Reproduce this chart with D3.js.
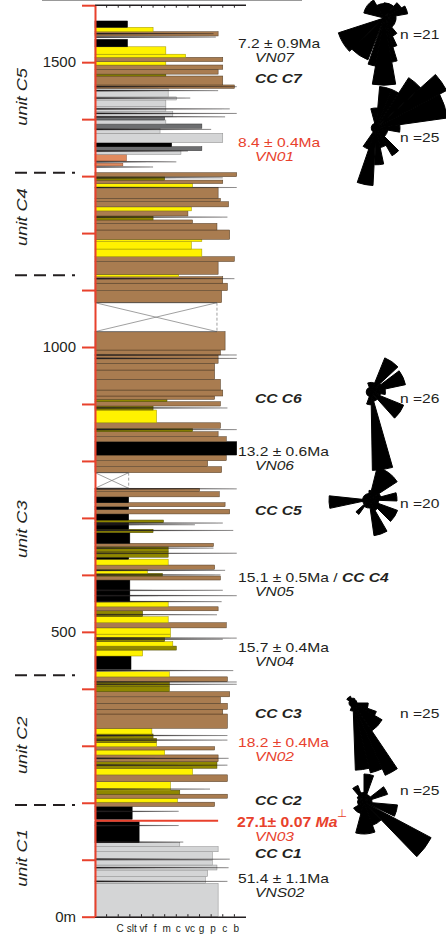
<!DOCTYPE html>
<html lang="en">
<head>
<meta charset="UTF-8">
<title>log</title>
<style>
  *{ margin:0; padding:0; box-sizing:border-box }
  html, body { width:446px; height:937px; background:#fff; overflow:hidden;
    font-family:"Liberation Sans", Arial, sans-serif; }
  svg { position:absolute; top:0; left:0 }
</style>
<script src="https://cdn.jsdelivr.net/npm/d3@7/dist/d3.min.js"></script>
</head>
<body>
<svg id="log" width="446" height="937"></svg>
<script>
// beds, bottom to top: top of bed (m), grain size index, lithology code
const bedTop = [58.6,70.2,82,90.7,99.5,114,123,130,166.8,171,193.4,201,208,215,222,237,249,260.5,272,284,
  292.6,298.4,305.4,313,320.7,330.7,355.8,364,374.6,386,395,403.7,412.5,421,430,434,457.6,468,475,482.7,
  490.4,496,507,516,526.6,537,544,553,591,598,602.7,609.8,617.3,627.6,631,640.7,649.5,655.4,674,680,
  691.6,696.3,707,715,719.7,726.7,737,746,752,779.4,790,800.4,810.4,833.8,842.6,851.3,857.3,867,889.4,896.4,
  904,908,914,924.5,943.3,959.6,971.4,986,994.7,1027,1077.8,1099,1112,1123.4,1127.6,1150,1158.5,1172,1185,1189,
  1205.4,1217,1223,1230,1239,1246,1255,1261,1280,1287,1293,1299,1306,1318,1322.5,1326.5,1338,1344.6,1351.6,1358.6,
  1375,1384,1391.5,1398.5,1404.3,1413,1422,1433.6,1439,1454,1460,1475.7,1479,1487.5,1495,1501,1508.5,1514,1527,1540,
  1546,1553.5,1561.2,1572.3];
const bedGrain = [10.6,9.5,9.7,10.5,10.1,10.1,10.6,7.3,3.8,0,3.2,10.3,7.1,11.4,7.3,6.5,11.4,8.4,10.5,10.6,
  6,10.3,5.3,5.3,5,4.9,11.4,11,11.4,10.8,11.6,6.4,6.4,11.4,6.4,0,3.1,4.1,7,6.7,
  6,6.5,6.5,11.3,6.3,4.1,10.6,6.3,3,10.8,5.8,4.5,10.3,6.3,2.9,6.3,6.3,10.2,3,5,
  2.9,5.9,2.9,11.6,2.9,11.2,2.9,10.7,9,2.9,10.9,9.7,11.3,12.2,11.3,10.6,8.4,10.8,5.3,5,
  10.8,6.2,10.3,11,10.8,10.3,10.3,10.6,10.8,11.2,10.5,10.9,11.4,11,7.2,10.6,12,9.2,8.3,9.2,
  11.6,10.5,8.4,5,8,8.3,11.5,10.8,10.6,8.4,11,6,12.2,0,2.4,0,2.7,7.4,9.2,6.6,
  11,5.6,9.2,6.1,6,6.7,6.1,6.1,7,6.3,12,11,6.1,10.6,11,6.1,11,7.8,6.1,2.8,
  0,10.6,5,2.8];
const bedLith = ["g","g","g","g","g","g","g","g","k","w","k","b","y","b","o","y","b","y","o","b",
  "y","b","y","o","o","y","b","b","b","b","b","o","o","b","y","w","k","y","o","y",
  "o","y","y","b","y","o","b","y","k","b","o","y","b","y","k","o","o","b","k","o",
  "k","o","k","b","k","b","k","b","b","x","b","b","b","k","b","b","o","b","y","o",
  "b","o","b","b","b","b","b","b","b","b","x","b","b","b","y","b","b","y","y","y",
  "b","b","b","o","b","y","b","b","b","y","b","o","b","w","r","w","r","g","d","k",
  "g","g","d","g","d","g","g","g","g","g","b","b","o","b","b","y","b","y","y","k",
  "w","b","y","k"];

// thin stringers / tails: elevation (m) and grain reach
const strElev  = [62,86,101,131,160,185,224,266,278,310,318,408,412,432,487,489,530,553,563.5,573,
  600,608,638,647,678,688,691,751,855,893,980,986,1120,1228,1280,1297,1316,1325,1344,1382,
  1404,1410,1418,1437,1450,1457,1544,1550];
const strGrain = [11.4,11.5,11.6,7.6,7.2,7.2,9.9,11.4,11.5,11.4,11.4,12.2,12.2,11.9,11,12.2,10.5,10.9,12.2,11,
  10.8,11.2,12.2,10.2,11.9,8.6,11,12.2,12.2,11.4,12.2,12.2,12,11.4,12.2,11,5,7,8,10,
  11.2,12.2,11.6,8.2,10.6,12.2,10.4,10.2];

const lithFill   = {k:"#000", y:"#fff200", b:"#a97c50", g:"#d4d5d6", o:"#8f8700", r:"#e08a5e", d:"#6d6e70", x:"#fff", w:"none"};
const lithStroke = {k:"#000", y:"#9a9000", b:"#4e3a24", g:"#8a8a8a", o:"#4d4700", r:"#8c4a2a", d:"#333", x:"none", w:"none"};

// axes
const depthTicks = d3.range(0, 1601, 100);
const grainLabels = ["C","slt","vf","f","m","c","vc","g","p","c","b"];
const grainIdx    = [2,3,4,5,6,7,8,9,10,11,12];

// units
const unitBounds = [196, 424, 1126, 1306];
const unitNames  = ["unit C1","unit C2","unit C3","unit C4","unit C5"];
const unitLabelAt = [103, 301, 680, 1228, 1439];

// ages
const ageLabels  = ["51.4 ± 1.1Ma","27.1± 0.07 ","18.2 ± 0.4Ma","15.7 ± 0.4Ma","15.1 ± 0.5Ma / ","13.2 ± 0.6Ma","8.4 ± 0.4Ma","7.2 ± 0.9Ma"];
const ageSamples = ["VNS02","VN03","VN02","VN04","VN05","VN06","VN01","VN07"];
const ageElev    = [59, 158, 298.4, 464.6, 587.5, 808.7, 1351.6, 1525];
const ageRed     = [false, true, true, false, false, false, true, false];
const markerElev = 168.5, markerGrain = 10.6;

// channel complexes
const ccLabels = ["CC C1","CC C2","CC C3","CC C5","CC C6","CC C7"];
const ccElev   = [103.3, 196, 348.8, 705, 901.7, 1463];

// rose diagrams: petals [from az, to az, frequency]
const rose1 = [[284,330,26],[330,360,18],[0,40,19],[40,60,25],[60,80,30],[80,100,15],[100,140,15],[140,155,25],[155,163,38],[163,170,56],[170,190,84],[190,199,61],[201,226,56],[226,252,60]];
const rose2 = [[345,365,25],[5,22,52],[22,33,52],[33,48,75],[48,62,100],[62,82,90],[82,100,30],[100,135,15],[135,150,40],[150,168,25],[168,182,46],[183,199,72],[199,215,28],[215,345,6]];
const rose3 = [[340,382,12],[22,47,46],[47,53,15],[53,78,44],[78,100,18],[100,112,12],[112,138,44],[138,164,12],[164,179,98],[179,200,16],[200,340,6]];
const rose4 = [[0,14,12],[14,57,42],[57,75,15],[75,92,35],[92,110,12],[110,135,38],[135,150,15],[150,172,45],[172,215,10],[215,228,22],[228,258,8],[258,276,50],[276,360,8]];
const rose5 = [[300,340,9],[340,380,6],[20,90,5],[90,110,19],[110,120,31],[120,146,42],[146,156,99],[156,166,90],[166,178,84],[178,200,10],[200,300,5]];
const rose6 = [[0,20,35],[20,52,10],[52,72,31],[72,95,10],[95,115,42],[118,136,95],[136,160,31],[160,195,40],[195,240,15],[240,300,8],[300,320,10],[320,340,22],[340,360,12]];
const roseN = [21, 25, 26, 20, 25, 25];

const svg = d3.select("#log");
const yS = d3.scaleLinear().domain([0, 1600]).range([916.7, 5.2]);
const xg = d3.scaleLinear().domain([0, 13]).range([95, 246]);
const red = "#e8412c", ink = "#231f20";

// top grey rule
svg.append("line").attr("x1",42).attr("x2",302).attr("y1",0.5).attr("y2",0.5)
  .attr("stroke","#999").attr("stroke-width",1);

// beds
const beds = bedTop.map((t,i)=>({top:t, base:i?bedTop[i-1]:0, k:bedGrain[i], lith:bedLith[i]}));
const gBeds = svg.append("g");
gBeds.selectAll("rect").data(beds.filter(d=>d.lith!=="w")).join("rect")
  .attr("x", xg(0)).attr("y", d=>yS(d.top))
  .attr("width", d=>xg(d.k)-xg(0)).attr("height", d=>yS(d.base)-yS(d.top))
  .attr("fill", d=>lithFill[d.lith]).attr("stroke", d=>lithStroke[d.lith]).attr("stroke-width",0.5);

// covered intervals
const cov = beds.filter(d=>d.lith==="x");
const gCov = svg.append("g").attr("stroke","#777").attr("stroke-width",0.7).attr("fill","none");
cov.forEach(d=>{
  const x0=xg(0), x1=xg(d.k), y0=yS(d.top), y1=yS(d.base);
  gCov.append("line").attr("x1",x0).attr("y1",y0).attr("x2",x1).attr("y2",y1);
  gCov.append("line").attr("x1",x0).attr("y1",y1).attr("x2",x1).attr("y2",y0);
  gCov.append("line").attr("x1",x1).attr("y1",y0).attr("x2",x1).attr("y2",y1).attr("stroke-dasharray","3,2");
  gCov.append("line").attr("x1",x0).attr("y1",y0).attr("x2",x1).attr("y2",y0).attr("stroke","#444");
  gCov.append("line").attr("x1",x0).attr("y1",y1).attr("x2",x1).attr("y2",y1).attr("stroke","#444");
});

// stringers
svg.append("g").selectAll("path").data(strElev.map((e,i)=>({e, k:strGrain[i]}))).join("path")
  .attr("d", d=>`M${xg(0)},${yS(d.e)-0.6}L${xg(d.k)},${yS(d.e)}L${xg(0)},${yS(d.e)+0.6}Z`)
  .attr("fill", ink).attr("stroke", ink).attr("stroke-width",0.3);

// bottom grain axis
const gx = svg.append("g");
gx.append("line").attr("x1",xg(0)).attr("x2",xg(13)).attr("y1",yS(0)+0.5).attr("y2",yS(0)+0.5)
  .attr("stroke",ink).attr("stroke-width",1.6);
gx.selectAll("line.t").data(d3.range(1,13)).join("line").attr("class","t")
  .attr("x1",d=>xg(d)).attr("x2",d=>xg(d)).attr("y1",yS(0)-2.5).attr("y2",yS(0))
  .attr("stroke",ink).attr("stroke-width",1);
gx.selectAll("text").data(grainLabels).join("text")
  .attr("x",(d,i)=>xg(grainIdx[i])+2).attr("y",932).attr("text-anchor","middle")
  .attr("font-size",10).attr("fill",ink).text(d=>d);

// top axis
const gt = svg.append("g");
gt.append("line").attr("x1",xg(0)).attr("x2",xg(13)).attr("y1",yS(1600)).attr("y2",yS(1600))
  .attr("stroke",ink).attr("stroke-width",1.4);
gt.selectAll("line.t").data(d3.range(1,13)).join("line").attr("class","t")
  .attr("x1",d=>xg(d)).attr("x2",d=>xg(d)).attr("y1",yS(1600)).attr("y2",yS(1600)+2.5)
  .attr("stroke",ink).attr("stroke-width",1);

// 27.1 Ma marker
svg.append("line").attr("x1",xg(0)).attr("x2",xg(markerGrain))
  .attr("y1",yS(markerElev)).attr("y2",yS(markerElev))
  .attr("stroke",red).attr("stroke-width",2);

// depth axis
const ay = svg.append("g").attr("transform",`translate(${xg(0)},0)`)
  .call(d3.axisLeft(yS).tickValues(depthTicks).tickSize(13).tickSizeOuter(0).tickPadding(6)
    .tickFormat(d=> d===0 ? "0m" : (d%500===0 ? d : "")));
ay.select(".domain").attr("stroke",red).attr("stroke-width",2);
ay.selectAll(".tick line").attr("stroke",red).attr("stroke-width",2);
ay.selectAll(".tick text").attr("font-size",15).attr("fill",ink)
  .attr("font-family","Liberation Sans, Arial, sans-serif");

// unit boundaries and labels
svg.append("g").selectAll("line").data(unitBounds).join("line")
  .attr("x1",15).attr("x2",75).attr("y1",d=>yS(d)).attr("y2",d=>yS(d))
  .attr("stroke",ink).attr("stroke-width",2).attr("stroke-dasharray","12,7");
svg.append("g").selectAll("text").data(unitNames).join("text")
  .attr("transform",(d,i)=>`translate(27,${yS(unitLabelAt[i])}) rotate(-90) scale(1.3,1)`)
  .attr("text-anchor","middle").attr("font-size",14).attr("font-style","italic")
  .attr("fill",ink).text(d=>d);

// age labels
const gA = svg.append("g");
ageLabels.forEach((lab,i)=>{
  const y = yS(ageElev[i]), col = ageRed[i] ? red : ink;
  if (i===1) {
    const t = gA.append("text").attr("transform",`translate(237,${y}) scale(1.05,1)`)
      .attr("font-size",15).attr("font-weight","bold").attr("fill",col);
    t.append("tspan").text(lab);
    t.append("tspan").attr("font-style","italic").text("Ma");
    t.append("tspan").attr("font-weight","normal").attr("font-size",11).attr("dy",-10).text("⊥");
  } else {
    const t = gA.append("text").attr("transform",`translate(238,${y}) scale(1.3,1)`)
      .attr("font-size",12).attr("fill",col);
    t.append("tspan").text(lab);
    if (i===4) t.append("tspan").attr("font-weight","bold").attr("font-style","italic").text("CC C4");
  }
  gA.append("text").attr("transform",`translate(255,${y+14}) scale(1.3,1)`)
    .attr("font-size",12).attr("font-style","italic").attr("fill",col).text(ageSamples[i]);
});

// channel complex labels
svg.append("g").selectAll("text").data(ccLabels).join("text")
  .attr("transform",(d,i)=>`translate(255,${yS(ccElev[i])}) scale(1.3,1)`)
  .attr("font-size",12).attr("font-weight","bold").attr("font-style","italic")
  .attr("fill",ink).text(d=>d);

// rose diagrams
const roses = [rose1, rose2, rose3, rose4, rose5, rose6];
const roseX = [384, 376, 371, 369, 353, 364];
const roseY = [18, 128, 392, 500, 703, 802];
const nY    = [39, 142, 403, 508, 718, 795];
const rS = d3.scaleLinear().domain([0,100]).range([0,80]);
const arc = d3.arc().innerRadius(0);
const rad = Math.PI/180;
roses.forEach((petals,i)=>{
  const g = svg.append("g").attr("transform",`translate(${roseX[i]},${roseY[i]})`);
  g.selectAll("path").data(petals).join("path")
    .attr("d", d=>arc({startAngle:d[0]*rad, endAngle:d[1]*rad, outerRadius:rS(d[2])}))
    .attr("fill","#000").attr("stroke","#000").attr("stroke-width",1).attr("stroke-linejoin","round");
  svg.append("text").attr("transform",`translate(400,${nY[i]}) scale(1.3,1)`)
    .attr("font-size",12).attr("fill",ink).text(`n =${roseN[i]}`);
});
</script>
</body>
</html>
